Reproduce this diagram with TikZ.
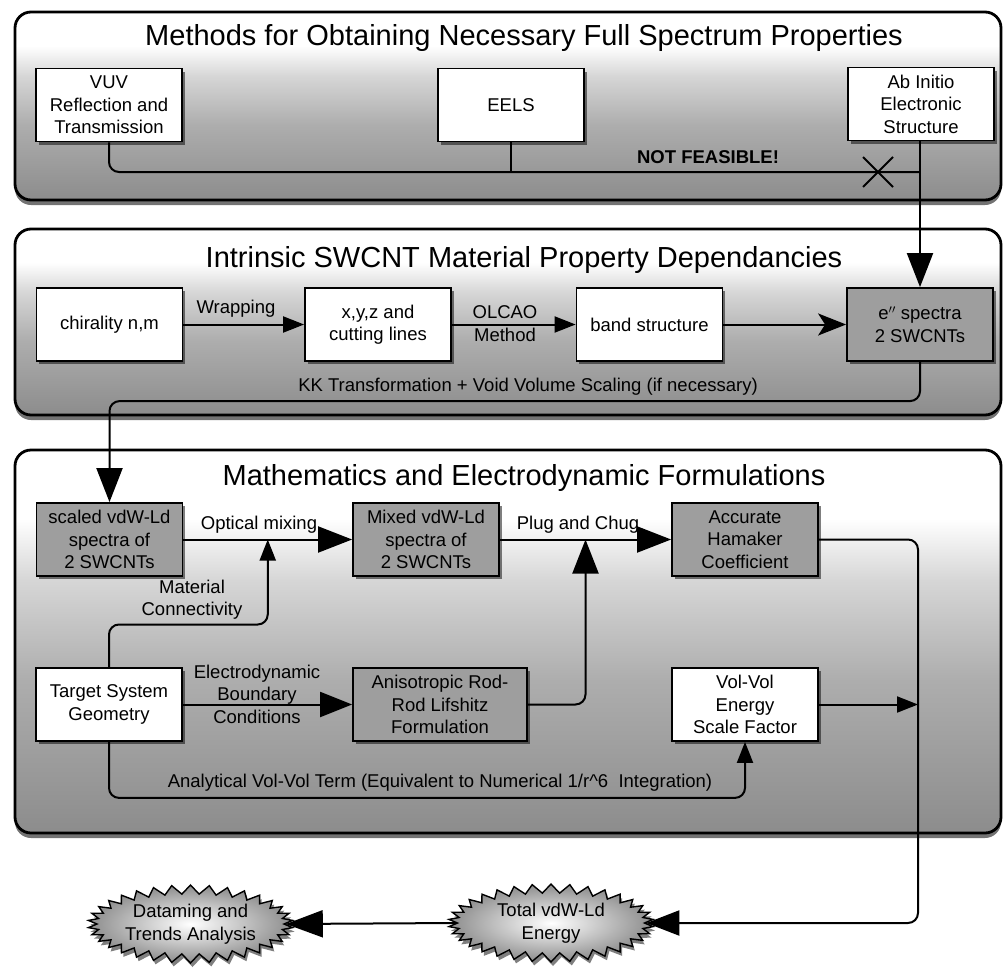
\documentclass[tikz,border=0pt]{standalone}
\usepackage{fontspec}
\setmainfont{Liberation Sans}
\usetikzlibrary{arrows.meta,shapes.symbols,shapes.misc,shadows,calc}
\pgfdeclareverticalshading{panelshade}{100bp}{color(0bp)=(black!46); color(25bp)=(black!45); color(45bp)=(black!32); color(58bp)=(black!16); color(66bp)=(white); color(100bp)=(white)}
\newcommand\dgfont{\fontsize{18.5}{22.5}\selectfont}
\newcommand\dgtitle{\fontsize{29}{34}\selectfont}
\begin{document}
\begin{tikzpicture}[x=1pt,y=-1pt,
  panel/.style={draw, line width=2.8pt, rounded corners=16pt, shading=panelshade,
    minimum width=986pt, minimum height=#1, inner sep=0pt,
    drop shadow={shadow xshift=0pt, shadow yshift=-5pt, opacity=0.55, fill=black}},
  ptitle/.style={font=\dgtitle, inner sep=0pt},
  box/.style={draw, line width=1.8pt, fill=white, minimum width=146pt, minimum height=73pt,
    align=center, inner sep=1pt, font=\dgfont,
    drop shadow={shadow xshift=2.5pt, shadow yshift=-3pt, opacity=0.5, fill=black}},
  gbox/.style={box, fill=black!38},
  lbl/.style={font=\dgfont, align=center, inner sep=0pt},
  conn/.style={line width=2pt, rounded corners=10pt},
  burst/.style={starburst, starburst points=34, starburst point height=9pt, random starburst=0,
    draw, line width=1.4pt, inner color=white, outer color=black!45,
    minimum width=205pt, minimum height=78pt, inner sep=0pt, align=center, font=\dgfont,
    drop shadow={shadow xshift=2pt, shadow yshift=-4pt, opacity=0.5, fill=black}},
  tipA/.style={-{Triangle[length=34pt,width=26pt]}},
  tipB/.style={-{Triangle[length=21pt,width=16pt]}},
  tipS/.style={-{Stealth[length=28pt,width=22pt,inset=7pt]}}
]
\useasboundingbox (0,0) rectangle (1003,974);

% panels
\node[panel=188pt] (p1) at (508,106) {};
\node[panel=186pt] (p2) at (508,322) {};
\node[panel=383pt] (p3) at (508,641.5) {};
\node[ptitle] (t1) at (524,38) {Methods for Obtaining Necessary Full Spectrum Properties};
\node[ptitle] (t2) at (524,260) {Intrinsic SWCNT Material Property Dependancies};
\node[ptitle] (t3) at (524,478) {Mathematics and Electrodynamic Formulations};

% panel 1
\node[box] (vuv) at (109,105) {VUV\\Reflection and\\Transmission};
\node[box] (eels) at (511,105) {EELS};
\node[box] (abinit) at (921,104) {Ab Initio\\Electronic\\Structure};
\coordinate (nfend) at (919,172);
\draw[conn] (vuv.south) |- (nfend);
\draw[conn] (eels.south) -- (eels.south |- nfend);
\node[cross out, draw, line width=2pt, minimum size=28pt, inner sep=0pt] (xmark) at (878,172) {};
\node[lbl, font=\dgfont\bfseries] (nf) at (708,157) {NOT FEASIBLE!};

% panel 2
\node[box] (chir) at (109.5,324.5) {chirality n,m};
\node[box] (xyz) at (378,324.5) {x,y,z and\\cutting lines};
\node[box] (band) at (649.5,324.5) {band structure};
\node[gbox] (espec) at (920,324.5) {e$''$ spectra\\2 SWCNTs};
\draw[conn,tipA] (abinit.south -| espec.north) -- (espec.north);
\draw[conn,tipB] (chir) -- (xyz);
\draw[conn,tipB] (xyz) -- (band);
\draw[conn,tipS] (band) -- (espec);
\node[lbl] (lwrap) at (236,309) {Wrapping};
\node[lbl] (lolcao) at (505,323.5) {OLCAO\\Method};
\node[lbl] (lkk) at (528,387) {KK Transformation + Void Volume Scaling (if necessary)};

% panel 3
\node[gbox] (scaled) at (109.5,539.5) {scaled vdW-Ld\\spectra of\\2 SWCNTs};
\node[gbox] (mixed) at (426,539.5) {Mixed vdW-Ld\\spectra of\\2 SWCNTs};
\node[gbox] (ham) at (745,539.5) {Accurate\\Hamaker\\Coefficient};
\node[box] (target) at (109,704.5) {Target System\\Geometry};
\node[gbox, minimum width=174pt] (aniso) at (440,704.5) {Anisotropic Rod-\\Rod Lifshitz\\Formulation};
\node[box] (volvol) at (745,704.5) {Vol-Vol\\Energy\\Scale Factor};

\draw[conn,tipA] (espec.south) |- ($(scaled.north)+(0,-101)$) -- (scaled.north);
\draw[conn,tipA] (scaled) -- (mixed);
\draw[conn,tipA] (mixed) -- (ham);
\coordinate (om) at ($(scaled.east)!0.5!(mixed.west)$);
\coordinate (pc) at ($(mixed.east)!0.5!(ham.west)$);
\draw[conn,tipB] (target.north) |- ($(om)+(0,85)$) -- (om);
\draw[conn,tipA] (aniso.east) -| (pc);
\draw[conn,-{Triangle[length=32pt,width=25pt]}] (target) -- (aniso);
\draw[conn,tipB] (target.south) |- ($(volvol.south)+(0,56)$) -- (volvol.south);
\node[lbl] (lopt) at (259,525) {Optical mixing};
\node[lbl] (lplug) at (578,525) {Plug and Chug};
\node[lbl] (lmat) at (192,599.5) {Material\\Connectivity};
\node[lbl] (lelec) at (257,694) {Electrodynamic\\Boundary\\Conditions};
\node[lbl] (lana) at (440,783) {Analytical Vol-Vol Term (Equivalent to Numerical 1/r\textasciicircum 6~ Integration)};

% bottom
\node[burst] (data) at (190.5,924) {Dataming and\\Trends Analysis};
\node[burst] (total) at (551,923) {Total vdW-Ld\\Energy};
\coordinate (rail) at (918,923);
\draw[conn,-{Triangle[length=33pt,width=25pt]}] (ham.east) -| (rail) -- (total.east);
\draw[conn,tipB] (volvol.east) -- (volvol.east -| rail);
\draw[conn,-{Triangle[length=37pt,width=27pt]}] (total.west) -- (data.east);
\end{tikzpicture}
\end{document}
